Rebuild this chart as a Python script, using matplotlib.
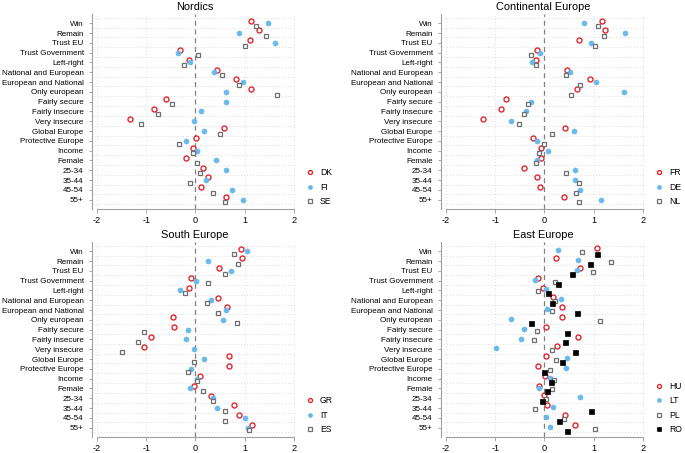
import numpy as np
import matplotlib
matplotlib.use("Agg")
import matplotlib.pyplot as plt

plt.rcParams['font.family'] = ['Liberation Sans', 'DejaVu Sans']

# categories (top to bottom)
cats = ['Win', 'Remain', 'Trust EU', 'Trust Government', 'Left-right',
        'National and European', 'European and National', 'Only european',
        'Fairly secure', 'Fairly insecure', 'Very insecure', 'Global Europe',
        'Protective Europe', 'Income', 'Female', '25-34', '35-44', '45-54', '55+']

# Nordics
dk = [1.13, 1.29, 1.11, -0.31, -0.14, 0.43, 0.82, 1.13, -0.59, -0.84, -1.32, 0.58, 0.02, -0.05, -0.19, 0.15, 0.25, 0.12, 0.62]
fi = [1.48, 0.88, 1.61, -0.35, -0.12, 0.37, 0.96, 0.62, 0.62, 0.11, -0.04, 0.18, -0.19, 0.03, 0.41, 0.61, 0.22, 0.75, 0.96]
se = [1.23, 1.44, 1.00, 0.06, -0.23, 0.54, 0.88, 1.65, -0.48, -0.77, -1.11, 0.49, -0.33, -0.06, 0.04, 0.09, -0.11, 0.35, 0.60]

# Continental Europe
fr = [1.16, 1.23, 0.69, -0.15, -0.18, 0.45, 0.93, 0.65, -0.78, -0.89, -1.24, 0.41, -0.24, -0.07, -0.07, -0.41, -0.16, -0.10, 0.40]
de = [0.80, 1.64, 0.95, -0.09, -0.25, 0.52, 1.04, 1.61, -0.28, -0.38, -0.68, 0.60, -0.16, 0.07, -0.16, 0.61, 0.62, 0.73, 1.15]
nl = [1.09, 1.20, 1.03, -0.28, -0.17, 0.43, 0.73, 0.54, -0.34, -0.41, -0.51, 0.15, 0.00, -0.11, -0.18, 0.43, 0.70, 0.64, 0.69]

# South Europe
gr = [0.92, 0.94, 0.48, -0.10, -0.14, 0.46, 0.63, -0.45, -0.43, -0.91, -1.04, 0.69, 0.69, 0.09, -0.03, 0.31, 0.79, 0.88, 1.14]
it = [1.04, 0.26, 0.72, 0.01, -0.32, 0.31, 0.62, 0.56, -0.16, -0.20, -0.03, 0.17, -0.10, 0.03, -0.12, 0.35, 0.43, 1.00, 1.06]
es = [0.79, 0.87, 0.59, 0.26, -0.21, 0.23, 0.45, 0.84, -1.04, -1.17, -1.49, -0.03, -0.15, 0.04, 0.15, 0.36, 0.59, 0.59, 1.08]

# East Europe
hu = [1.07, 0.23, 0.72, -0.14, -0.04, 0.17, 0.36, 0.36, 0.03, 0.67, 0.25, 0.03, -0.13, 0.01, -0.11, 0.00, 0.05, 0.41, 0.61]
lt = [0.28, 0.68, 0.65, -0.20, 0.04, 0.34, 0.05, -0.68, -0.41, -0.48, -0.98, 0.46, 0.44, 0.11, -0.11, 0.72, 0.18, 0.03, 0.11]
pl = [0.76, 1.35, 0.98, 0.21, -0.14, 0.22, 0.16, 1.12, -0.16, -0.22, 0.16, 0.24, 0.11, 0.19, 0.16, 0.04, -0.20, 0.40, 1.02]
ro = [1.06, 0.93, 0.56, 0.27, 0.07, 0.16, 0.66, -0.28, 0.45, 0.41, 0.62, 0.36, -0.01, 0.13, 0.06, -0.05, 0.94, 0.29, 0.45]

red = '#e0282e'
blue = '#6ab9ea'
gray = '#6e6e6e'

# marker styles per series slot
styles = [
    dict(marker='o', mfc='white', mec=red, mew=1.0, ms=3.6),
    dict(marker='o', mfc=blue, mec=blue, mew=0.5, ms=3.6),
    dict(marker='s', mfc='white', mec=gray, mew=0.9, ms=3.4),
    dict(marker='s', mfc='black', mec='black', mew=0.5, ms=3.6),
]

panels = [
    ('Nordics', [dk, fi, se], ['DK', 'FI', 'SE'], [0.1343, 0.5386]),
    ('Continental Europe', [fr, de, nl], ['FR', 'DE', 'NL'], [0.6438, 0.5386]),
    ('South Europe', [gr, it, es], ['GR', 'IT', 'ES'], [0.1343, 0.0353]),
    ('East Europe', [hu, lt, pl, ro], ['HU', 'LT', 'PL', 'RO'], [0.6438, 0.0353]),
]

fig = plt.figure(figsize=(6.85, 4.53), dpi=100)
y = np.arange(len(cats))

for title, series, labels, (x0, y0) in panels:
    ax = fig.add_axes([x0, y0, 0.2993, 0.4295])
    n = len(series)
    offs = np.linspace(-0.27, 0.27, n) if n == 3 else np.array([-0.3, -0.1, 0.1, 0.3])
    for k, (vals, lab) in enumerate(zip(series, labels)):
        ax.plot(vals, y + offs[k], linestyle='none', label=lab, zorder=3, **styles[k])

    # grid
    for g in np.arange(-1, len(cats)) + 0.45:
        ax.axhline(g, color='#cfcfcf', lw=0.6, ls=(0, (1, 2.5)), zorder=1)
    for gx in [-2, -1, 1, 2]:
        ax.axvline(gx, color='#d6d6d6', lw=0.6, ls=(0, (1, 2.5)), zorder=1)
    ax.axvline(0, color='#808080', lw=0.9, ls=(0, (4, 3)), zorder=2)

    ax.set_xlim(-2.1, 2.06)
    ax.set_ylim(len(cats) - 0.05, -0.9)
    ax.set_yticks(y)
    ax.set_yticklabels(cats)
    ax.set_xticks([-2, -1, 0, 1, 2])
    ax.set_xticklabels(['-2', '-1', '0', '1', '2'])
    ax.tick_params(axis='y', labelsize=5.8, length=2.5, width=0.6, color='#999999', pad=3.5)
    ax.tick_params(axis='x', labelsize=6.6, length=3, width=0.6, color='#999999', pad=2)
    for s in ['top', 'right']:
        ax.spines[s].set_visible(False)
    for s in ['left', 'bottom']:
        ax.spines[s].set_color('#a0a0a0')
        ax.spines[s].set_linewidth(0.8)
    ax.spines['bottom'].set_bounds(-2, 2)
    ax.set_title(title, fontsize=7.9, pad=3)

    ax.legend(loc='lower left', bbox_to_anchor=(1.02, -0.01), frameon=False,
              fontsize=6.2, handlelength=0.8, handletextpad=0.8, markerscale=0.8,
              labelspacing=0.6, borderaxespad=0.2)

fig.savefig('out.png', dpi=100)
